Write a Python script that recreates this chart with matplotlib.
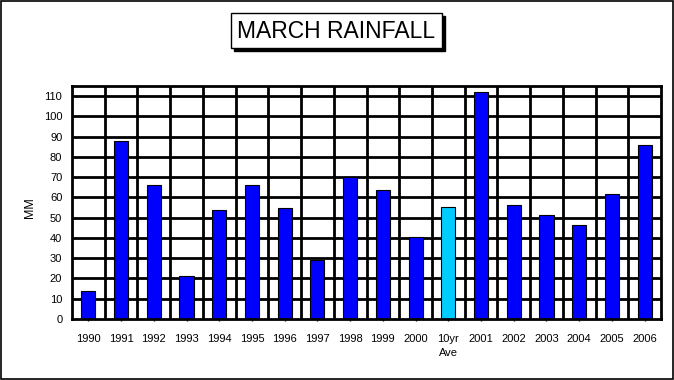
import matplotlib
matplotlib.use("Agg")
import matplotlib.pyplot as plt
from matplotlib.patches import Rectangle
import numpy as np

# data
labels = ["1990", "1991", "1992", "1993", "1994", "1995", "1996", "1997", "1998",
          "1999", "2000", "10yr\nAve", "2001", "2002", "2003", "2004", "2005", "2006"]
rain_mm = [14, 88, 66, 21, 54, 66, 55, 29, 70, 63.5, 40.5, 55.3, 112, 56.5, 51.5, 46.5, 61.5, 85.7]
bar_colors = ["#0000ff"] * len(labels)
bar_colors[11] = "#00ccff"

plt.rcParams["font.family"] = ["Liberation Sans", "DejaVu Sans"]

W, H = 674, 380
fig = plt.figure(figsize=(W / 100, H / 100), dpi=100)
fig.patch.set_facecolor("white")

# outer frame
fig.patches.append(Rectangle((0.5 / W, 1.5 / H), (W - 2) / W, (H - 2.5) / H,
                             transform=fig.transFigure, fill=False,
                             edgecolor="black", linewidth=1.2))

# title box with shadow
bx, by, bw, bh = 231, 13, 211, 35
fig.patches.append(Rectangle(((bx + 3) / W, 1 - (by + bh + 3) / H), bw / W, bh / H,
                             transform=fig.transFigure, facecolor="black",
                             edgecolor="black", linewidth=1))
fig.patches.append(Rectangle((bx / W, 1 - (by + bh) / H), bw / W, bh / H,
                             transform=fig.transFigure, facecolor="white",
                             edgecolor="black", linewidth=1))
fig.text((bx + bw / 2) / W, 1 - (by + bh / 2 + 1) / H, "MARCH RAINFALL",
         ha="center", va="center", fontsize=16.5)

# plot area
left, right, top, bottom = 72, 661, 86, 319
ax = fig.add_axes([left / W, 1 - bottom / H, (right - left) / W, (bottom - top) / H])
x = np.arange(len(labels))
ax.bar(x, rain_mm, width=0.43, color=bar_colors, edgecolor="black", linewidth=0.8, zorder=3)

ax.set_xlim(-0.5, len(labels) - 0.5)
ax.set_ylim(0, 115)
ax.set_yticks(np.arange(0, 111, 10))
ax.set_yticklabels([str(v) for v in range(0, 111, 10)], fontsize=8)
ax.set_xticks(x)
ax.set_xticklabels(labels, fontsize=8, linespacing=1.5)
ax.tick_params(axis="x", length=3, width=1, direction="inout", pad=9)
ax.tick_params(axis="y", length=0, pad=7)

# thick grid: horizontal at y ticks, vertical at category boundaries
for yv in range(10, 111, 10):
    ax.axhline(yv, color="black", linewidth=2, zorder=1)
for xv in np.arange(0.5, len(labels) - 0.5, 1):
    ax.axvline(xv, color="black", linewidth=2, zorder=1)

for s in ax.spines.values():
    s.set_linewidth(2)
    s.set_zorder(4)

ax.set_ylabel("MM", fontsize=9)
ax.yaxis.set_label_coords(-36 / (right - left), 0.48)

fig.savefig("out.png", dpi=100)
